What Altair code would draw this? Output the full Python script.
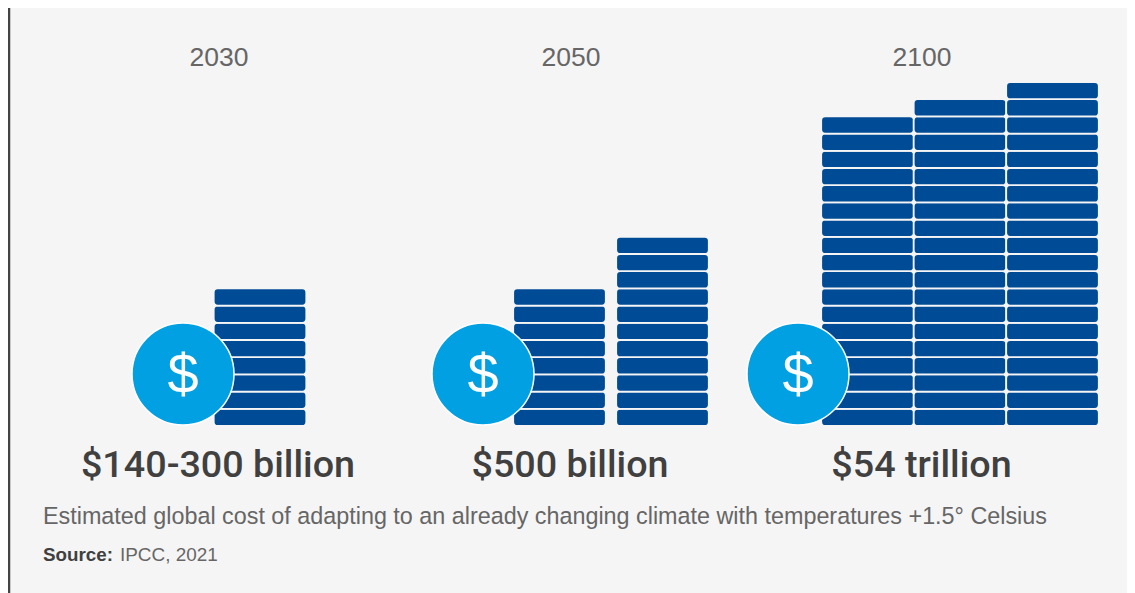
import altair as alt
import pandas as pd

# ---- data
years = ["2030", "2050", "2100"]
totals = ["$140-300 billion", "$500 billion", "$54 trillion"]
stack_heights = [[8], [8, 11], [18, 19, 20]]
caption = "Estimated global cost of adapting to an already changing climate with temperatures +1.5° Celsius"
source_label = "Source:"
source_text = "IPCC, 2021"

# ---- layout (chart pixels)
W, H = 1119, 585
BG = "#f5f5f5"
column_centers = [[252], [551.5, 654.5], [859.5, 952, 1044.5]]
coin_centers = [175, 475, 790]
year_centers = [211, 563, 914]
total_centers = [210, 562, 913.5]

x_scale = alt.Scale(domain=[0, W], range=[0, W], padding=0, nice=False, zero=False)
levels = alt.Scale(domain=[0, 20], range=[418.0, 74.0], padding=0, nice=False)

rows = []
for cs, hs in zip(column_centers, stack_heights):
    for c, h in zip(cs, hs):
        rows += [{"c": c, "lo": i, "hi": i + 1} for i in range(h)]
coins = pd.DataFrame(rows)
heads = pd.DataFrame({"x": year_centers, "t": years})
tot = pd.DataFrame({"x": total_centers, "t": totals})
circles = pd.DataFrame({"x": coin_centers, "t": ["$"] * 3})

X = alt.X("x:Q", scale=x_scale, axis=None)


def label(text, x, y, align="left", **kw):
    return alt.Chart(pd.DataFrame({"x": [x], "t": [text]})).mark_text(
        align=align, baseline="alphabetic", **kw
    ).encode(X, y=alt.value(y), text="t:N")


bars = alt.Chart(coins).mark_bar(
    width=92.6, color="#004b96", stroke=BG, strokeWidth=1.8, cornerRadius=4
).encode(
    x=alt.X("c:Q", scale=x_scale, axis=None),
    y=alt.Y("lo:Q", scale=levels, axis=None),
    y2="hi:Q",
)
circle = alt.Chart(circles).mark_point(
    filled=True, size=10404, fill="#00a0e3", stroke="white", strokeWidth=1.5, opacity=1, shape="circle"
).encode(X, y=alt.value(366))
dollar = alt.Chart(circles).mark_text(
    font="Liberation Sans", fontSize=56, color="white", baseline="middle", align="center"
).encode(X, y=alt.value(368), text="t:N")
head = alt.Chart(heads).mark_text(
    font="Liberation Sans", fontSize=26.5, color="#666666", baseline="alphabetic", align="center"
).encode(X, y=alt.value(58), text="t:N")
total = alt.Chart(tot).mark_text(
    font="Roboto", fontSize=37.7, fontWeight=500, color="#404040", baseline="alphabetic", align="center"
).encode(X, y=alt.value(469), text="t:N")
edge = alt.Chart(pd.DataFrame({"x": [1]})).mark_rule(color="#444444", strokeWidth=2.5).encode(
    X, y=alt.value(0), y2=alt.value(H)
)

chart = alt.layer(
    edge, bars, circle, dollar, head, total,
    label(caption, 35, 516, font="Liberation Sans", fontSize=23.35, color="#666666"),
    label(source_label, 35, 553, font="Liberation Sans", fontSize=18.8, fontWeight="bold", color="#404040"),
    label(source_text, 112, 553, font="Liberation Sans", fontSize=18.9, color="#666666"),
).properties(
    width=W, height=H, background=BG, padding=0,
    autosize=alt.AutoSizeParams(type="none"),
).configure_view(stroke=None)

chart.save("out.html", embed_options={"renderer": "svg", "actions": False})
